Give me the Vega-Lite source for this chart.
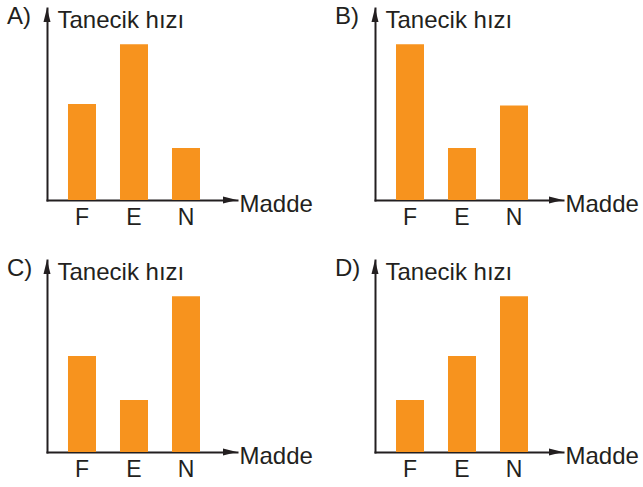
{
  "$schema": "https://vega.github.io/schema/vega-lite/v6.json",
  "padding": {"left": 7, "top": 5, "right": 0, "bottom": 0},
  "config": {
    "view": {"stroke": null},
    "font": "Liberation Sans"
  },
  "datasets": {
    "A": [{"madde": "F", "hiz": 1.85}, {"madde": "E", "hiz": 3.0}, {"madde": "N", "hiz": 1.0}],
    "B": [{"madde": "F", "hiz": 3.0}, {"madde": "E", "hiz": 1.0}, {"madde": "N", "hiz": 1.82}],
    "C": [{"madde": "F", "hiz": 1.85}, {"madde": "E", "hiz": 1.0}, {"madde": "N", "hiz": 3.0}],
    "D": [{"madde": "F", "hiz": 1.0}, {"madde": "E", "hiz": 1.85}, {"madde": "N", "hiz": 3.0}]
  },
  "columns": 2,
  "spacing": {"row": 28, "column": 22},
  "concat": [
    {
      "width": 190, "height": 192,
      "data": {"name": "A"},
      "layer": [
        {
          "mark": {"type": "bar", "color": "#F7931E"},
          "encoding": {
            "x": {"field": "madde", "type": "nominal", "sort": ["F", "E", "N"],
              "scale": {"paddingInner": 0.4615, "paddingOuter": 0.5577, "align": 0.362},
              "axis": {"title": "Madde", "titleX": 192, "titleY": 11, "titleAlign": "left", "titleBaseline": "alphabetic", "titleFontSize": 24, "titleFontWeight": "normal", "titleColor": "#231F20", "labelAngle": 0, "labelFontSize": 23, "labelPadding": 6, "labelColor": "#231F20", "ticks": false, "grid": false, "domainColor": "#231F20", "domainWidth": 2, "domainCap": "square"}},
            "y": {"field": "hiz", "type": "quantitative", "scale": {"domain": [0, 3.7], "nice": false},
              "axis": {"title": "Tanecik hızı", "titleAngle": 0, "titleX": 10, "titleY": 19, "titleAlign": "left", "titleBaseline": "alphabetic", "titleFontSize": 24, "titleFontWeight": "normal", "titleColor": "#231F20", "labels": false, "ticks": false, "grid": false, "domainColor": "#231F20", "domainWidth": 2, "domainCap": "square"}}
          }
        },
        {
          "data": {"values": [{}]},
          "mark": {"type": "point", "shape": "M0,0L-0.5,2L0.5,2Z", "size": 196, "filled": true, "color": "#231F20", "opacity": 1},
          "encoding": {
            "x": {"datum": 0, "type": "quantitative", "scale": {"domain": [0, 1]}, "axis": null},
            "y": {"datum": 3.7, "type": "quantitative"}
          }
        },
        {
          "data": {"values": [{}]},
          "mark": {"type": "point", "shape": "M0,0L-2,-0.5L-2,0.5Z", "size": 196, "filled": true, "color": "#231F20", "opacity": 1},
          "encoding": {
            "x": {"datum": 1, "type": "quantitative", "scale": {"domain": [0, 1]}, "axis": null},
            "y": {"datum": 0, "type": "quantitative"}
          }
        },
        {
          "data": {"values": [{}]},
          "mark": {"type": "text", "text": "A)", "align": "left", "baseline": "alphabetic", "dx": -40, "dy": 16, "fontSize": 24, "color": "#231F20"},
          "encoding": {
            "x": {"datum": 0, "type": "quantitative", "scale": {"domain": [0, 1]}, "axis": null},
            "y": {"datum": 3.7, "type": "quantitative"}
          }
        }
      ],
      "resolve": {"scale": {"x": "independent"}}
    },
    {
      "width": 188, "height": 192,
      "data": {"name": "B"},
      "layer": [
        {
          "mark": {"type": "bar", "color": "#F7931E"},
          "encoding": {
            "x": {"field": "madde", "type": "nominal", "sort": ["F", "E", "N"],
              "scale": {"paddingInner": 0.4615, "paddingOuter": 0.5385, "align": 0.375},
              "axis": {"title": "Madde", "titleX": 190, "titleY": 11, "titleAlign": "left", "titleBaseline": "alphabetic", "titleFontSize": 24, "titleFontWeight": "normal", "titleColor": "#231F20", "labelAngle": 0, "labelFontSize": 23, "labelPadding": 6, "labelColor": "#231F20", "ticks": false, "grid": false, "domainColor": "#231F20", "domainWidth": 2, "domainCap": "square"}},
            "y": {"field": "hiz", "type": "quantitative", "scale": {"domain": [0, 3.7], "nice": false},
              "axis": {"title": "Tanecik hızı", "titleAngle": 0, "titleX": 10, "titleY": 19, "titleAlign": "left", "titleBaseline": "alphabetic", "titleFontSize": 24, "titleFontWeight": "normal", "titleColor": "#231F20", "labels": false, "ticks": false, "grid": false, "domainColor": "#231F20", "domainWidth": 2, "domainCap": "square"}}
          }
        },
        {
          "data": {"values": [{}]},
          "mark": {"type": "point", "shape": "M0,0L-0.5,2L0.5,2Z", "size": 196, "filled": true, "color": "#231F20", "opacity": 1},
          "encoding": {
            "x": {"datum": 0, "type": "quantitative", "scale": {"domain": [0, 1]}, "axis": null},
            "y": {"datum": 3.7, "type": "quantitative"}
          }
        },
        {
          "data": {"values": [{}]},
          "mark": {"type": "point", "shape": "M0,0L-2,-0.5L-2,0.5Z", "size": 196, "filled": true, "color": "#231F20", "opacity": 1},
          "encoding": {
            "x": {"datum": 1, "type": "quantitative", "scale": {"domain": [0, 1]}, "axis": null},
            "y": {"datum": 0, "type": "quantitative"}
          }
        },
        {
          "data": {"values": [{}]},
          "mark": {"type": "text", "text": "B)", "align": "left", "baseline": "alphabetic", "dx": -40, "dy": 16, "fontSize": 24, "color": "#231F20"},
          "encoding": {
            "x": {"datum": 0, "type": "quantitative", "scale": {"domain": [0, 1]}, "axis": null},
            "y": {"datum": 3.7, "type": "quantitative"}
          }
        }
      ],
      "resolve": {"scale": {"x": "independent"}}
    },
    {
      "width": 190, "height": 192,
      "data": {"name": "C"},
      "layer": [
        {
          "mark": {"type": "bar", "color": "#F7931E"},
          "encoding": {
            "x": {"field": "madde", "type": "nominal", "sort": ["F", "E", "N"],
              "scale": {"paddingInner": 0.4615, "paddingOuter": 0.5577, "align": 0.362},
              "axis": {"title": "Madde", "titleX": 192, "titleY": 11, "titleAlign": "left", "titleBaseline": "alphabetic", "titleFontSize": 24, "titleFontWeight": "normal", "titleColor": "#231F20", "labelAngle": 0, "labelFontSize": 23, "labelPadding": 6, "labelColor": "#231F20", "ticks": false, "grid": false, "domainColor": "#231F20", "domainWidth": 2, "domainCap": "square"}},
            "y": {"field": "hiz", "type": "quantitative", "scale": {"domain": [0, 3.7], "nice": false},
              "axis": {"title": "Tanecik hızı", "titleAngle": 0, "titleX": 10, "titleY": 19, "titleAlign": "left", "titleBaseline": "alphabetic", "titleFontSize": 24, "titleFontWeight": "normal", "titleColor": "#231F20", "labels": false, "ticks": false, "grid": false, "domainColor": "#231F20", "domainWidth": 2, "domainCap": "square"}}
          }
        },
        {
          "data": {"values": [{}]},
          "mark": {"type": "point", "shape": "M0,0L-0.5,2L0.5,2Z", "size": 196, "filled": true, "color": "#231F20", "opacity": 1},
          "encoding": {
            "x": {"datum": 0, "type": "quantitative", "scale": {"domain": [0, 1]}, "axis": null},
            "y": {"datum": 3.7, "type": "quantitative"}
          }
        },
        {
          "data": {"values": [{}]},
          "mark": {"type": "point", "shape": "M0,0L-2,-0.5L-2,0.5Z", "size": 196, "filled": true, "color": "#231F20", "opacity": 1},
          "encoding": {
            "x": {"datum": 1, "type": "quantitative", "scale": {"domain": [0, 1]}, "axis": null},
            "y": {"datum": 0, "type": "quantitative"}
          }
        },
        {
          "data": {"values": [{}]},
          "mark": {"type": "text", "text": "C)", "align": "left", "baseline": "alphabetic", "dx": -40, "dy": 16, "fontSize": 24, "color": "#231F20"},
          "encoding": {
            "x": {"datum": 0, "type": "quantitative", "scale": {"domain": [0, 1]}, "axis": null},
            "y": {"datum": 3.7, "type": "quantitative"}
          }
        }
      ],
      "resolve": {"scale": {"x": "independent"}}
    },
    {
      "width": 188, "height": 192,
      "data": {"name": "D"},
      "layer": [
        {
          "mark": {"type": "bar", "color": "#F7931E"},
          "encoding": {
            "x": {"field": "madde", "type": "nominal", "sort": ["F", "E", "N"],
              "scale": {"paddingInner": 0.4615, "paddingOuter": 0.5385, "align": 0.375},
              "axis": {"title": "Madde", "titleX": 190, "titleY": 11, "titleAlign": "left", "titleBaseline": "alphabetic", "titleFontSize": 24, "titleFontWeight": "normal", "titleColor": "#231F20", "labelAngle": 0, "labelFontSize": 23, "labelPadding": 6, "labelColor": "#231F20", "ticks": false, "grid": false, "domainColor": "#231F20", "domainWidth": 2, "domainCap": "square"}},
            "y": {"field": "hiz", "type": "quantitative", "scale": {"domain": [0, 3.7], "nice": false},
              "axis": {"title": "Tanecik hızı", "titleAngle": 0, "titleX": 10, "titleY": 19, "titleAlign": "left", "titleBaseline": "alphabetic", "titleFontSize": 24, "titleFontWeight": "normal", "titleColor": "#231F20", "labels": false, "ticks": false, "grid": false, "domainColor": "#231F20", "domainWidth": 2, "domainCap": "square"}}
          }
        },
        {
          "data": {"values": [{}]},
          "mark": {"type": "point", "shape": "M0,0L-0.5,2L0.5,2Z", "size": 196, "filled": true, "color": "#231F20", "opacity": 1},
          "encoding": {
            "x": {"datum": 0, "type": "quantitative", "scale": {"domain": [0, 1]}, "axis": null},
            "y": {"datum": 3.7, "type": "quantitative"}
          }
        },
        {
          "data": {"values": [{}]},
          "mark": {"type": "point", "shape": "M0,0L-2,-0.5L-2,0.5Z", "size": 196, "filled": true, "color": "#231F20", "opacity": 1},
          "encoding": {
            "x": {"datum": 1, "type": "quantitative", "scale": {"domain": [0, 1]}, "axis": null},
            "y": {"datum": 0, "type": "quantitative"}
          }
        },
        {
          "data": {"values": [{}]},
          "mark": {"type": "text", "text": "D)", "align": "left", "baseline": "alphabetic", "dx": -40, "dy": 16, "fontSize": 24, "color": "#231F20"},
          "encoding": {
            "x": {"datum": 0, "type": "quantitative", "scale": {"domain": [0, 1]}, "axis": null},
            "y": {"datum": 3.7, "type": "quantitative"}
          }
        }
      ],
      "resolve": {"scale": {"x": "independent"}}
    }
  ]
}
